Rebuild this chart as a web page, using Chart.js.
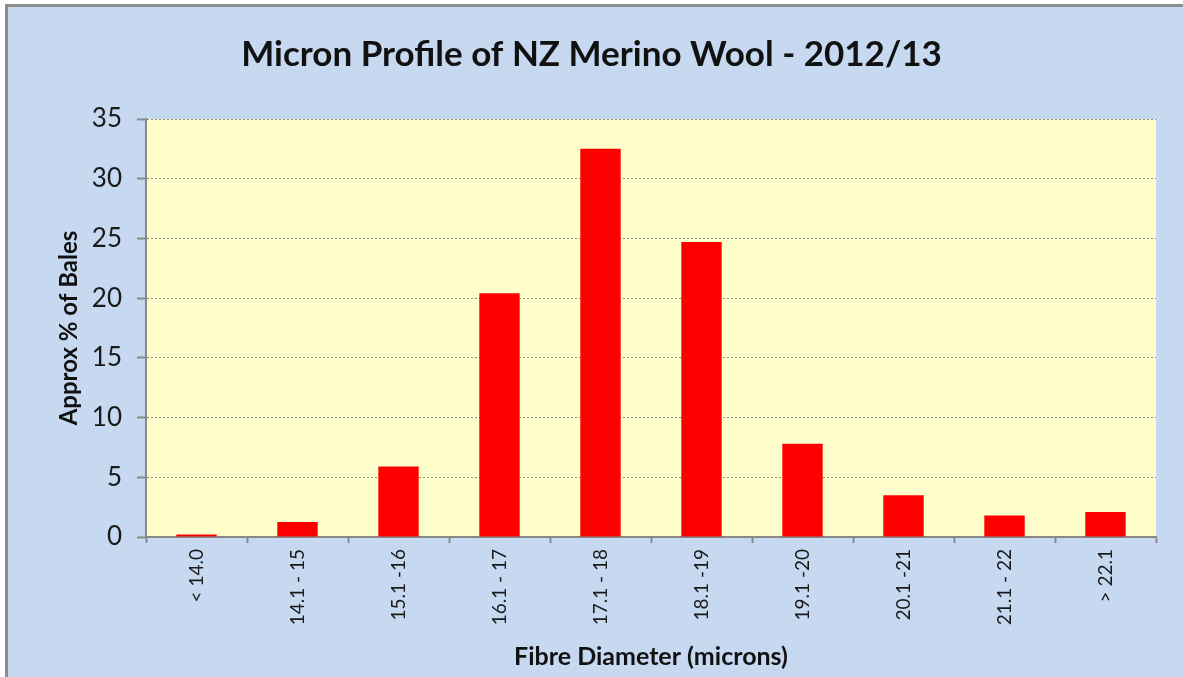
<!DOCTYPE html>
<html>
<head>
<meta charset="utf-8">
<script src="https://cdn.jsdelivr.net/npm/chart.js@4"></script>
<style>
  html, body { margin:0; padding:0; background:#ffffff; overflow:hidden; }
  #frame { position:fixed; left:5px; top:4px; right:-20px; bottom:-20px; border-left:3px solid #8c8c8c; border-top:3px solid #8c8c8c; background:#c6d9f0; }
  #wrap { position:fixed; left:0; top:0; width:1183px; height:677px; }
  canvas { display:block; }
</style>
</head>
<body>
<div id="frame"></div>
<div id="wrap"><canvas id="c" width="1183" height="677"></canvas></div>
<script>
const categories = ["< 14.0", "14.1 - 15", "15.1 -16", "16.1 - 17", "17.1 - 18", "18.1 -19", "19.1 -20", "20.1 -21", "21.1 - 22", "> 22.1"];
const percentOfBales = [0.2, 1.25, 5.9, 20.4, 32.5, 24.7, 7.8, 3.5, 1.8, 2.1];
const yTicks = [0, 5, 10, 15, 20, 25, 30, 35];

const plotBg = {
  id: 'plotBg',
  beforeDraw(chart) {
    const {ctx, chartArea: a} = chart;
    ctx.save();
    ctx.fillStyle = '#ffffcc';
    ctx.fillRect(a.left, a.top, a.right - a.left, a.bottom - a.top);
    ctx.restore();
  }
};

new Chart(document.getElementById('c'), {
  type: 'bar',
  data: {
    labels: categories,
    datasets: [{
      data: percentOfBales,
      backgroundColor: '#ff0000',
      borderWidth: 0,
      barPercentage: 0.4,
      categoryPercentage: 1.0
    }]
  },
  options: {
    responsive: false,
    animation: false,
    devicePixelRatio: 1,
    layout: { padding: { left: 0, right: 0, top: 0, bottom: 0 } },
    plugins: {
      legend: { display: false },
      tooltip: { enabled: false },
      title: {
        display: true,
        text: 'Micron Profile of NZ Merino Wool - 2012/13',
        color: '#111111',
        font: { family: 'Lato', size: 35, weight: 'bold', lineHeight: 1.2 },
        padding: { top: 34, bottom: 43 }
      }
    },
    scales: {
      x: {
        grid: { display: true, drawOnChartArea: false, drawTicks: true, tickLength: 6, tickColor: '#888888', tickWidth: 2, offset: true },
        border: { display: true, color: '#888888', width: 2 },
        ticks: { color: '#1a1a1a', font: { family: 'Lato', size: 19 }, minRotation: 90, maxRotation: 90, padding: 6, autoSkip: false },
        title: { display: true, text: 'Fibre Diameter (microns)', color: '#111111', font: { family: 'Lato', size: 25, weight: 'bold', lineHeight: 1.2 }, padding: { top: 0, bottom: 5 } },
        afterFit(scale) { scale.height = 140; }
      },
      y: {
        min: 0, max: 35,
        afterBuildTicks(scale) { scale.ticks = yTicks.map(v => ({ value: v })); },
        grid: { color: '#8a8a8a', lineWidth: 1, tickBorderDash: [], tickLength: 9, tickColor: '#888888', tickWidth: 2 },
        border: { display: true, color: '#888888', width: 2, dash: [2, 2] },
        ticks: { color: '#1a1a1a', font: { family: 'Lato', size: 26 }, padding: 15 },
        title: { display: true, text: 'Approx % of Bales', color: '#111111', font: { family: 'Lato', size: 24, weight: 'bold', lineHeight: 1.2 }, padding: { top: 55, bottom: 0 } },
        afterFit(scale) { scale.width = 146; }
      },
      yRight: {
        position: 'right',
        display: true,
        grid: { drawOnChartArea: false, drawTicks: false },
        border: { display: false },
        ticks: { display: false },
        afterFit(scale) { scale.width = 27; }
      }
    }
  },
  plugins: [plotBg]
});
</script>
</body>
</html>
